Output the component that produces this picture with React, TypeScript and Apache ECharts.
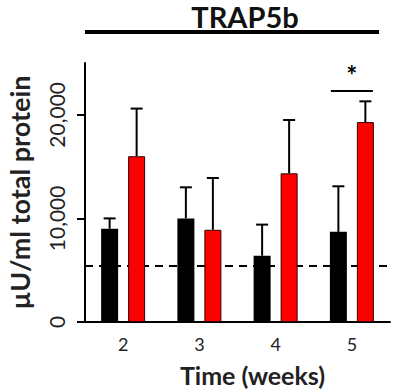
import React, { useEffect, useRef } from "react";
import * as echarts from "echarts";

const categories = ["2", "3", "4", "5"];
const controlMeans = [9000, 10000, 6400, 8700];
const controlErr = [10000, 13000, 9400, 13100];
const treatedMeans = [16000, 8900, 14350, 19300];
const treatedErr = [20600, 13900, 19500, 21300];
const baseline = 5450;
const yTickValues = [0, 10000, 20000];

const FONT = "Lato";
const BAR_W = 17;
const BAR_GAP = 10;
const OFFSET = (BAR_W + BAR_GAP) / 2;

function errRender(means: number[], errs: number[], sign: number) {
  return (params: any, api: any) => {
    const i = api.value(0);
    const top = api.coord([i, errs[i]]);
    const base = api.coord([i, means[i]]);
    const x = top[0] + sign * OFFSET;
    return {
      type: "group",
      children: [
        { type: "line", shape: { x1: x, y1: base[1], x2: x, y2: top[1] }, style: { stroke: "#000", lineWidth: 2 } },
        { type: "line", shape: { x1: x - 6, y1: top[1], x2: x + 6, y2: top[1] }, style: { stroke: "#000", lineWidth: 2 } },
      ],
    };
  };
}

export default function App() {
  const ref = useRef<HTMLDivElement>(null);
  useEffect(() => {
    const chart = echarts.init(ref.current!, null, { renderer: "svg" });
    const option: any = {
      animation: false,
      grid: { left: 85, right: 9, top: 63, bottom: 70, containLabel: false, outerBoundsMode: "none" },
      xAxis: {
        type: "category",
        data: categories,
        axisLine: { lineStyle: { color: "#000", width: 2 } },
        axisTick: { alignWithLabel: true, length: 5, lineStyle: { color: "#000", width: 2 } },
        axisLabel: { color: "#222", fontFamily: FONT, fontSize: 18, margin: 13 },
        name: "Time (weeks)",
        nameLocation: "middle",
        nameGap: 40,
        nameTextStyle: { color: "#222", fontFamily: FONT, fontSize: 25, fontWeight: "bold", padding: [0, 0, 0, 30] },
      },
      yAxis: {
        type: "value",
        min: 0,
        max: 25000,
        interval: 10000,
        splitLine: { show: false },
        axisLine: { show: true, lineStyle: { color: "#000", width: 2 } },
        axisTick: { show: true, length: 8, customValues: yTickValues, lineStyle: { color: "#000", width: 2 } },
        axisLabel: {
          customValues: yTickValues,
          rotate: 90,
          color: "#222",
          fontFamily: FONT,
          fontSize: 21,
          margin: 18,
          formatter: (v: number) => v.toLocaleString("en-US"),
        },
        name: "µU/ml total protein",
        nameLocation: "middle",
        nameRotate: 90,
        nameGap: 52,
        nameTextStyle: { color: "#222", fontFamily: FONT, fontSize: 27, fontWeight: "bold" },
      },
      series: [
        {
          type: "bar",
          data: controlMeans,
          barWidth: BAR_W,
          barGap: (BAR_GAP / BAR_W) * 100 + "%",
          itemStyle: { color: "#000" },
          z: 2,
          markLine: {
            silent: true,
            symbol: "none",
            label: { show: false },
            lineStyle: { color: "#000", type: [8, 6], width: 2 },
            data: [{ yAxis: baseline }],
            z: 1,
          },
        },
        {
          type: "bar",
          data: treatedMeans,
          barWidth: BAR_W,
          itemStyle: { color: "#f00", borderColor: "#300", borderWidth: 1 },
          z: 2,
        },
        {
          type: "custom",
          data: categories.map((_, i) => [i]),
          renderItem: errRender(controlMeans, controlErr, -1),
          z: 3,
        },
        {
          type: "custom",
          data: categories.map((_, i) => [i]),
          renderItem: errRender(treatedMeans, treatedErr, 1),
          z: 3,
        },
      ],
    };
    chart.setOption(option);
    const p = chart.convertToPixel({ xAxisIndex: 0, yAxisIndex: 0 }, [3, 22500]) as number[];
    const y0 = chart.convertToPixel({ yAxisIndex: 0 }, 0) as number;
    chart.setOption({
      graphic: [
        { type: "text", x: 245, y: 16, style: { text: "TRAP5b", font: `bold 29px ${FONT}`, fill: "#111", align: "center", verticalAlign: "middle" } },
        { type: "rect", shape: { x: 85, y: 30, width: 294, height: 4 }, style: { fill: "#000" } },
        { type: "line", shape: { x1: p[0] - 21, y1: p[1] + 2, x2: p[0] + 21, y2: p[1] + 2 }, style: { stroke: "#000", lineWidth: 2 } },
        { type: "text", x: p[0], y: p[1] - 1, style: { text: "*", font: `bold 26px ${FONT}`, fill: "#000", align: "center", verticalAlign: "bottom" } },
        { type: "line", shape: { x1: 77, y1: y0, x2: 86, y2: y0 }, style: { stroke: "#000", lineWidth: 2 } },
      ],
    });
    return () => chart.dispose();
  }, []);
  return <div ref={ref} style={{ width: 399, height: 392, position: "absolute", left: 0, top: 0 }} />;
}
